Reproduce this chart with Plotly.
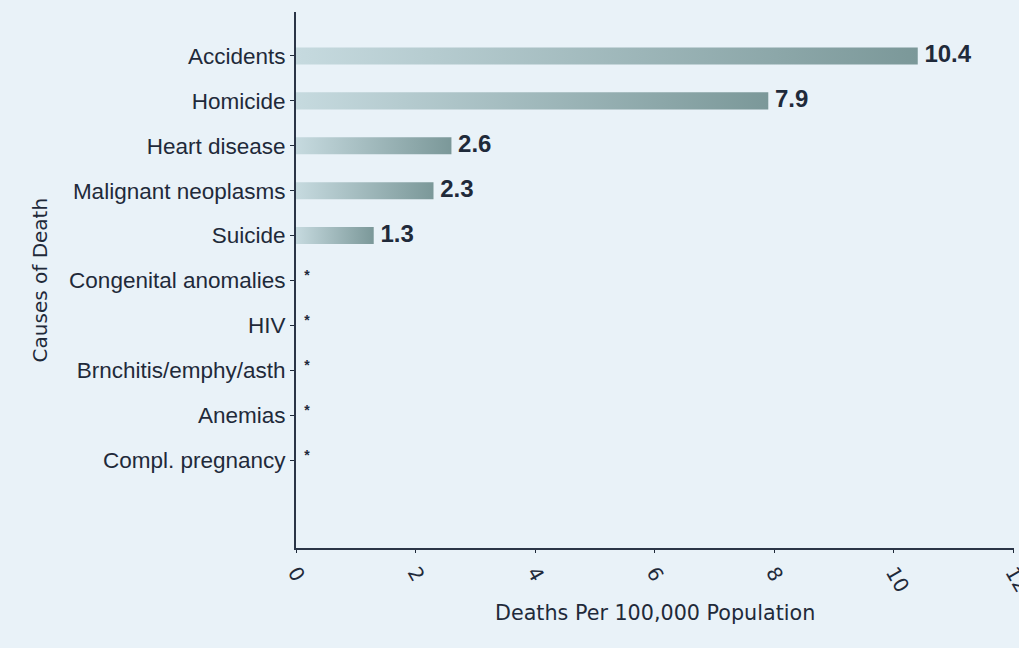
import plotly.graph_objects as go

# Causes of death, top to bottom, with rates per 100,000 (None = suppressed, shown as "*")
causes = [
    "Accidents",
    "Homicide",
    "Heart disease",
    "Malignant neoplasms",
    "Suicide",
    "Congenital anomalies",
    "HIV",
    "Brnchitis/emphy/asth",
    "Anemias",
    "Compl. pregnancy",
]
rates = [10.4, 7.9, 2.6, 2.3, 1.3, None, None, None, None, None]
x_ticks = [0, 2, 4, 6, 8, 10, 12]

BAR_HALF = 0.19
TEXT = "#1f2a3a"
BG = "#e9f2f8"
gradient = [[0.0, "#c6dadf"], [1.0, "#7b9899"]]

fig = go.Figure()

# Each bar is a filled rectangle with a left-to-right gradient
for i, (name, v) in enumerate(zip(causes, rates)):
    if v is None:
        continue
    fig.add_trace(go.Scatter(
        x=[0, v, v, 0, 0],
        y=[i - BAR_HALF, i - BAR_HALF, i + BAR_HALF, i + BAR_HALF, i - BAR_HALF],
        mode="lines",
        line=dict(width=0),
        fill="toself",
        fillgradient=dict(type="horizontal", colorscale=gradient),
        hoverinfo="skip",
        showlegend=False,
    ))

# Value labels at the end of each bar
shown = [(i, v) for i, v in enumerate(rates) if v is not None]
fig.add_trace(go.Scatter(
    x=[v for _, v in shown],
    y=[i for i, _ in shown],
    mode="text",
    text=[f" {v:.1f}" for _, v in shown],
    textposition="middle right",
    textfont=dict(family="Liberation Sans", size=24, color=TEXT, weight="bold"),
    showlegend=False,
    hoverinfo="skip",
))

# Suppressed values marked with an asterisk
hidden = [i for i, v in enumerate(rates) if v is None]
fig.add_trace(go.Scatter(
    x=[0.14] * len(hidden),
    y=[i - 0.08 for i in hidden],
    mode="text",
    text=["*"] * len(hidden),
    textposition="middle right",
    textfont=dict(family="Liberation Sans", size=14, color=TEXT, weight="bold"),
    showlegend=False,
    hoverinfo="skip",
))

fig.update_layout(
    width=1019,
    height=648,
    margin=dict(l=296, r=5, t=12, b=100),
    paper_bgcolor=BG,
    plot_bgcolor="rgba(0,0,0,0)",
    xaxis=dict(
        range=[0, 12.01],
        tickvals=x_ticks,
        ticktext=[str(t) for t in x_ticks],
        tickangle=60,
        ticks="outside",
        ticklen=3,
        tickcolor=TEXT,
        ticklabeloverflow="allow",
        automargin=False,
        showline=True,
        linecolor="#2b3547",
        linewidth=2,
        showgrid=False,
        zeroline=False,
        tickfont=dict(family="DejaVu Sans", size=20, color=TEXT),
    ),
    yaxis=dict(
        range=[10.96, -0.98],
        tickvals=list(range(len(causes))),
        ticktext=causes,
        ticks="outside",
        ticklen=4,
        tickcolor=TEXT,
        automargin=False,
        showline=True,
        linecolor="#2b3547",
        linewidth=2,
        showgrid=False,
        zeroline=False,
        tickfont=dict(family="Liberation Sans", size=22.5, color=TEXT),
    ),
    annotations=[
        dict(
            text="Deaths Per 100,000 Population",
            xref="paper", yref="paper", x=0.5, y=-0.122,
            xanchor="center", yanchor="middle", showarrow=False,
            font=dict(family="DejaVu Sans", size=20.7, color=TEXT),
        ),
        dict(
            text="Causes of Death",
            xref="paper", yref="paper", x=-0.356, y=0.5,
            xanchor="center", yanchor="middle", showarrow=False, textangle=-90,
            font=dict(family="DejaVu Sans", size=20, color=TEXT),
        ),
    ],
)

fig.write_html("out.html")
